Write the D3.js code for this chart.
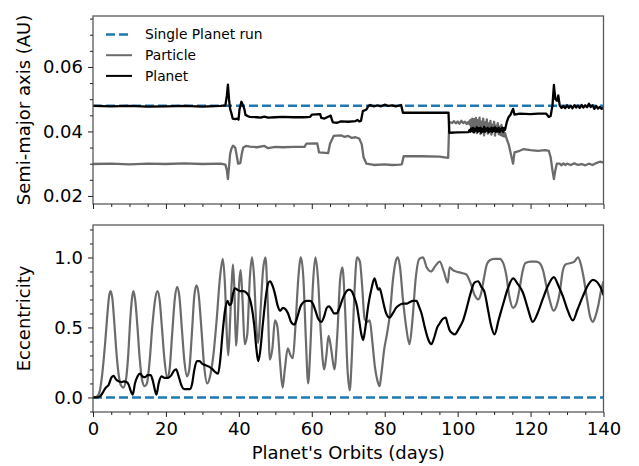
<!DOCTYPE html>
<html>
<head>
<meta charset="utf-8">
<script src="https://cdn.jsdelivr.net/npm/d3@7/dist/d3.min.js"></script>
<style>
  body { margin: 0; background: #fff; }
  text { font-family: "DejaVu Sans", sans-serif; fill: #000; }
</style>
</head>
<body>
<svg id="chart" width="639" height="466"></svg>
<script>
// x ticks shared by both panels
const xMajor = [0, 20, 40, 60, 80, 100, 120, 140];
const semiTicks = [0.02, 0.04, 0.06];
const eccTicks = [0.0, 0.5, 1.0];

// single planet run (constant)
const singleSemi = [[0, 0.048], [140, 0.048]];
const singleEcc = [[0, 0], [140, 0]];

// semi-major axis [days, AU]
const planetSemi = [
  [0,0.0479],[5,0.0478],[10,0.0479],[15,0.0477],[20,0.0478],[25,0.0479],[30,0.0477],[35,0.0479],
  [36.3,0.0481],[36.7,0.0510],[37.0,0.0545],[37.3,0.0500],[37.6,0.0470],[38.0,0.0455],[38.3,0.0440],
  [39.0,0.0438],[39.5,0.0440],[39.9,0.0437],[40.2,0.0470],[40.7,0.0492],[41.0,0.0485],[41.5,0.0470],
  [41.8,0.0452],[42.5,0.0447],[43,0.0445],[45,0.0444],[46,0.0443],[47,0.0446],[48,0.0443],[50,0.0444],
  [52,0.0445],[55,0.0444],[58,0.0444],[59.5,0.0445],[60,0.0452],[62.3,0.0454],[62.6,0.0442],[63.5,0.0440],
  [64.2,0.0444],[65.2,0.0449],[65.5,0.0437],[65.8,0.0428],[67,0.0427],[68,0.0431],[70,0.0430],[72,0.0432],
  [72.5,0.0436],[73,0.0431],[73.5,0.0433],[74,0.0463],[75,0.0468],[75.5,0.0479],[76,0.0482],[77,0.0478],
  [78,0.0481],[79,0.0478],[80,0.0483],[81,0.0479],[82,0.0481],[83,0.0478],[84.5,0.0482],[85,0.0458],
  [90,0.0458],[95,0.0458],[97.5,0.0458],[97.7,0.0396],[100,0.0397],[103,0.0398],
  [103.25,0.0405],[103.5,0.0399],[103.75,0.0409],[104,0.0401],[104.25,0.0411],[104.5,0.0397],[104.75,0.0408],
  [105,0.0403],[105.25,0.0413],[105.5,0.0398],[105.75,0.0410],[106,0.0402],[106.25,0.0412],[106.5,0.0396],
  [106.75,0.0407],[107,0.0400],[107.25,0.0414],[107.5,0.0399],[107.75,0.0409],[108,0.0403],[108.25,0.0411],
  [108.5,0.0397],[108.75,0.0408],[109,0.0401],[109.25,0.0412],[109.5,0.0398],[109.75,0.0410],[110,0.0402],
  [110.25,0.0413],[110.5,0.0399],[110.75,0.0409],[111,0.0400],[111.25,0.0411],[111.5,0.0398],[111.75,0.0408],
  [112,0.0403],[112.25,0.0412],[112.5,0.0399],[112.75,0.0410],[113,0.0405],
  [113.5,0.0430],[114,0.0445],[114.5,0.0452],[115.2,0.0470],[115.6,0.0452],[117,0.0455],
  [120,0.0454],[122,0.0455],[124.3,0.0455],[125,0.0445],[125.5,0.0448],[126,0.0480],[126.4,0.0544],
  [126.8,0.0500],[127.3,0.0495],[127.6,0.0512],[128,0.0480],[128.5,0.0473],[129,0.0479],[129.5,0.0472],
  [130,0.0481],[130.5,0.0473],[131,0.0480],[131.5,0.0472],[132,0.0481],[132.5,0.0474],[133,0.0480],
  [133.5,0.0473],[134,0.0482],[134.5,0.0474],[135,0.0481],[135.5,0.0475],[136,0.0486],[136.5,0.0476],
  [137,0.0481],[137.5,0.0470],[138,0.0479],[138.5,0.0471],[139,0.0476],[139.5,0.0470],[140,0.0474]
];

const particleSemi = [
  [0,0.0299],[5,0.0300],[10,0.0298],[15,0.0300],[20,0.0299],[25,0.0301],[30,0.0299],[35,0.0300],
  [36.3,0.0297],[36.7,0.0280],[37.0,0.0252],[37.3,0.0290],[37.6,0.0330],[38.0,0.0348],[38.4,0.0356],
  [39.0,0.0350],[39.5,0.0320],[39.8,0.0300],[40.4,0.0302],[40.8,0.0330],[41.2,0.0350],[42,0.0355],
  [43,0.0353],[45,0.0351],[47,0.0355],[48,0.0348],[50,0.0352],[52,0.0351],[55,0.0352],[58,0.0352],
  [58.5,0.0362],[61.5,0.0363],[62,0.0335],[64.5,0.0333],[65,0.0362],[66,0.0386],[68,0.0388],[69,0.0383],
  [70,0.0386],[71,0.0380],[72,0.0382],[73,0.0378],[73.7,0.0360],[74.2,0.0320],[75,0.0300],[77,0.0296],
  [80,0.0298],[82,0.0296],[84,0.0297],[84.7,0.0298],[85.2,0.0323],[90,0.0323],[95,0.0322],[97.4,0.0318],
  [97.7,0.0430],[98.5,0.0426],[99,0.0432],[99.5,0.0425],[100,0.0431],[100.5,0.0424],[101,0.0433],
  [101.5,0.0426],[102,0.0430],[102.5,0.0423],[103,0.0430],
  [103.25,0.0422],[103.5,0.0436],[103.75,0.0405],[104,0.0440],[104.25,0.0398],[104.5,0.0438],[104.75,0.0412],
  [105,0.0442],[105.25,0.0395],[105.5,0.0435],[105.75,0.0418],[106,0.0443],[106.25,0.0392],[106.5,0.0430],
  [106.75,0.0410],[107,0.0440],[107.25,0.0388],[107.5,0.0428],[107.75,0.0415],[108,0.0437],[108.25,0.0393],
  [108.5,0.0425],[108.75,0.0402],[109,0.0433],[109.25,0.0390],[109.5,0.0420],[109.75,0.0408],[110,0.0430],
  [110.25,0.0387],[110.5,0.0418],[110.75,0.0400],[111,0.0426],[111.25,0.0392],[111.5,0.0415],[111.75,0.0389],
  [112,0.0420],[112.25,0.0386],[112.5,0.0405],[112.75,0.0384],[113,0.0395],
  [113.5,0.0375],[114,0.0360],[114.5,0.0335],[115.2,0.0300],[115.6,0.0335],[117,0.0340],[118,0.0345],
  [120,0.0342],[122,0.0340],[124,0.0342],[125,0.0340],[125.5,0.0320],[126,0.0280],[126.4,0.0252],
  [126.8,0.0280],[127.2,0.0300],[128,0.0300],[128.5,0.0295],[129,0.0301],[129.5,0.0296],[130,0.0300],
  [131,0.0296],[132,0.0301],[133,0.0296],[134,0.0299],[135,0.0295],[136,0.0300],[137,0.0296],
  [138,0.0302],[139,0.0306],[140,0.0304]
];

// eccentricity [days, e]
const particleEcc = [
  [0,0],[1,0.005],[1.8,0.04],[2.5,0.16],[3.3,0.38],[3.9,0.58],[4.4,0.72],[4.8,0.76],[5.3,0.71],[5.8,0.55],
  [6.4,0.33],[7.0,0.17],[7.6,0.09],[8.3,0.07],[9.0,0.12],[9.6,0.28],[10.2,0.55],[10.7,0.71],[11.1,0.76],
  [11.6,0.69],[12.2,0.5],[12.8,0.28],[13.5,0.12],[14.2,0.08],[14.8,0.1],[15.5,0.25],[16.3,0.52],[17.1,0.71],
  [17.7,0.76],[18.3,0.69],[18.9,0.5],[19.6,0.27],[20.4,0.14],[21.0,0.2],[21.7,0.45],[22.5,0.72],[23.1,0.79],
  [23.7,0.72],[24.4,0.48],[25.1,0.25],[25.8,0.15],[26.4,0.2],[27.1,0.45],[27.8,0.73],[28.4,0.8],[29.0,0.73],
  [29.7,0.5],[30.5,0.22],[31.3,0.1],[32.1,0.15],[33.0,0.3],[33.9,0.55],[34.8,0.85],[35.6,0.99],[36.2,0.8],
  [36.7,0.45],[37.1,0.3],[37.6,0.55],[38.1,0.85],[38.4,0.95],[38.8,0.75],[39.2,0.37],[39.7,0.55],[40.1,0.82],
  [40.5,0.91],[41.0,0.7],[41.6,0.38],[42.3,0.45],[43.0,0.85],[43.6,1.0],[44.2,0.85],[44.8,0.5],[45.3,0.39],
  [45.9,0.6],[46.6,0.9],[47.3,1.0],[47.9,0.7],[48.5,0.27],[49.2,0.35],[49.9,0.55],[50.6,0.5],[51.3,0.25],
  [52.0,0.07],[52.6,0.2],[53.4,0.35],[54.2,0.3],[54.8,0.28],[55.5,0.5],[56.3,0.85],[57.0,1.0],[57.7,0.85],
  [58.4,0.4],[59.0,0.1],[59.6,0.35],[60.3,0.8],[61.0,1.0],[61.7,0.85],[62.5,0.45],[63.4,0.2],[64.0,0.3],
  [64.6,0.44],[65.3,0.35],[66.2,0.2],[67.0,0.45],[67.8,0.85],[68.4,0.93],[69.1,0.65],[69.8,0.2],[70.4,0.05],
  [71.0,0.3],[71.7,0.75],[72.4,1.0],[73.2,0.97],[73.8,0.8],[74.5,0.56],[75.2,0.54],[75.9,0.55],[76.6,0.4],
  [77.3,0.22],[78.0,0.12],[78.6,0.08],[79.0,0.15],[79.9,0.35],[80.6,0.45],[81.4,0.59],[82.3,0.85],[83.0,0.97],
  [83.6,1.0],[84.2,0.93],[85.0,0.7],[85.9,0.5],[86.8,0.38],[87.6,0.55],[88.5,0.85],[89.5,0.99],[90.5,1.0],
  [91.5,0.93],[92.7,0.9],[93.9,0.94],[95.1,0.97],[96.2,0.9],[97.3,0.82],[97.8,0.93],[98.7,0.91],[99.6,0.9],
  [101,0.89],[102.3,0.88],[103.5,0.82],[104.7,0.73],[105.6,0.70],[106.4,0.74],[107.2,0.85],[108,0.95],
  [108.8,0.98],[110,0.99],[111.5,0.99],[112.5,0.96],[113.3,0.88],[114.2,0.72],[115.2,0.64],[116.1,0.67],
  [117,0.78],[117.8,0.9],[118.6,0.96],[120,0.97],[121.5,0.97],[122.5,0.96],[123.5,0.9],[124.3,0.8],
  [125.2,0.7],[126.3,0.62],[127.2,0.66],[128,0.75],[128.8,0.9],[129.6,0.95],[131,0.96],[132,0.97],
  [133,1.0],[133.8,0.95],[134.6,0.85],[135.5,0.7],[136.3,0.58],[137.1,0.54],[137.8,0.58],[138.6,0.66],
  [139.3,0.76],[140,0.83]
];

const planetEcc = [
  [0,0],[1,0.0],[2,0.01],[2.8,0.04],[3.5,0.07],[4.3,0.09],[5.0,0.14],[5.6,0.155],[6.3,0.13],[7.0,0.115],
  [7.8,0.11],[8.5,0.115],[9.2,0.11],[9.8,0.09],[10.3,0.05],[10.9,0.02],[11.5,0.1],[12.2,0.15],[12.9,0.17],
  [13.6,0.15],[14.3,0.145],[15.0,0.16],[15.8,0.16],[16.4,0.12],[17.0,0.05],[17.4,0.02],[18.0,0.1],[18.8,0.15],
  [19.6,0.14],[20.6,0.14],[21.5,0.16],[22.2,0.19],[22.8,0.2],[23.5,0.15],[24.2,0.09],[25.0,0.06],[25.8,0.06],
  [26.6,0.06],[27.2,0.1],[27.8,0.2],[28.5,0.26],[29.2,0.26],[30.0,0.24],[30.9,0.23],[31.8,0.22],[32.8,0.2],
  [33.6,0.18],[34.3,0.17],[34.9,0.27],[35.5,0.45],[36.2,0.62],[36.9,0.69],[37.4,0.66],[37.9,0.67],[38.4,0.74],
  [38.9,0.78],[39.6,0.77],[40.3,0.76],[41.2,0.76],[42.0,0.75],[42.8,0.72],[43.5,0.65],[44.2,0.52],[44.8,0.35],
  [45.3,0.26],[45.8,0.32],[46.6,0.53],[47.4,0.72],[48.1,0.82],[48.6,0.83],[49.2,0.8],[49.9,0.74],[50.6,0.66],
  [51.3,0.62],[52.1,0.64],[52.8,0.63],[53.5,0.6],[54.3,0.54],[55.2,0.52],[56.1,0.58],[56.9,0.65],[57.7,0.68],
  [58.6,0.69],[59.5,0.69],[60.3,0.67],[61.0,0.62],[61.8,0.56],[62.6,0.54],[63.4,0.58],[64.1,0.64],[64.7,0.65],
  [65.4,0.63],[66.1,0.6],[66.8,0.6],[67.6,0.64],[68.4,0.7],[69.3,0.75],[70.2,0.77],[70.9,0.76],[71.6,0.72],
  [72.4,0.65],[73.0,0.55],[73.6,0.45],[74.1,0.41],[74.6,0.48],[75.5,0.66],[76.4,0.78],[77.2,0.85],[77.8,0.8],
  [78.2,0.77],[78.6,0.78],[79.0,0.75],[79.6,0.68],[80.4,0.6],[81.3,0.57],[82.2,0.6],[83.1,0.64],[84.0,0.66],
  [85.0,0.67],[86.0,0.67],[86.8,0.68],[87.7,0.69],[88.7,0.69],[89.4,0.65],[90.1,0.6],[91.0,0.5],[92.0,0.41],
  [92.8,0.38],[93.6,0.43],[94.4,0.5],[95.1,0.53],[95.9,0.56],[96.7,0.57],[97.2,0.53],[97.8,0.48],[98.5,0.46],
  [99.2,0.45],[100.3,0.49],[101.5,0.55],[102.5,0.64],[103.5,0.74],[104.6,0.82],[105.6,0.83],[106.5,0.79],
  [107.4,0.75],[108.3,0.63],[109.2,0.51],[110.1,0.45],[111.2,0.55],[112.4,0.66],[113.8,0.78],[115.2,0.85],
  [116.5,0.81],[117.9,0.75],[119.2,0.64],[120.6,0.54],[121.9,0.6],[123.3,0.7],[124.8,0.8],[126.4,0.86],
  [127.6,0.8],[128.9,0.72],[130.2,0.62],[131.6,0.55],[132.9,0.63],[134.3,0.72],[135.7,0.8],[137.1,0.84],
  [138.0,0.83],[138.9,0.8],[139.5,0.77],[140,0.73]
];

const svg = d3.select("#chart");

const left = 93, right = 603.5;
const topPanel = { top: 16, bottom: 204 };
const botPanel = { top: 225, bottom: 412 };

const x = d3.scaleLinear().domain([0, 140]).range([left, right]);
const ySemi = d3.scaleLinear().domain([0.0175, 0.0758]).range([topPanel.bottom, topPanel.top]);
const yEcc = d3.scaleLinear().domain([-0.104, 1.232]).range([botPanel.bottom, botPanel.top]);

const blue = "#1f77b4";
const gray = "#6b6b6b";

function drawPanel(panel, y, majors, minors, fmt, showXLabels) {
    const g = svg.append("g");

    // clip lines to the axes box
    const clipId = "clip" + panel.top;
    svg.append("clipPath").attr("id", clipId)
        .append("rect")
        .attr("x", left).attr("y", panel.top)
        .attr("width", right - left).attr("height", panel.bottom - panel.top);

    const plot = g.append("g").attr("clip-path", `url(#${clipId})`);

    // frame
    g.append("rect")
        .attr("x", left).attr("y", panel.top)
        .attr("width", right - left).attr("height", panel.bottom - panel.top)
        .attr("fill", "none").attr("stroke", "#5a5a5a").attr("stroke-width", 1.3);

    // y axis
    g.append("g").attr("transform", `translate(${left},0)`)
        .call(d3.axisLeft(y).tickValues(majors).tickSize(5).tickPadding(5).tickFormat(fmt));
    g.append("g").attr("transform", `translate(${left},0)`)
        .call(d3.axisLeft(y).tickValues(minors).tickSize(3).tickFormat(""));

    // x axis
    g.append("g").attr("transform", `translate(0,${panel.bottom})`)
        .call(d3.axisBottom(x).tickValues(xMajor).tickSize(5).tickPadding(5)
            .tickFormat(showXLabels ? d3.format("d") : ""));
    g.append("g").attr("transform", `translate(0,${panel.bottom})`)
        .call(d3.axisBottom(x).tickValues(d3.range(0, 141, 5).filter(v => v % 20 !== 0))
            .tickSize(3).tickFormat(""));

    g.selectAll(".domain").remove();
    g.selectAll(".tick line").attr("stroke", "#222").attr("stroke-width", 1);
    g.selectAll(".tick text")
        .attr("font-size", "18px")
        .attr("font-family", "DejaVu Sans, sans-serif")
        .attr("fill", "#000");

    return plot;
}

const semiMinor = d3.range(0.02, 0.0751, 0.005).filter(v => !semiTicks.some(t => Math.abs(t - v) < 1e-6));
const eccMinor = d3.range(-0.1, 1.201, 0.1).filter(v => !eccTicks.some(t => Math.abs(t - v) < 1e-6));

const topPlot = drawPanel(topPanel, ySemi, semiTicks, semiMinor, d3.format(".2f"), false);
const botPlot = drawPanel(botPanel, yEcc, eccTicks, eccMinor, d3.format(".1f"), true);

const lineSemi = d3.line().x(d => x(d[0])).y(d => ySemi(d[1]));
const lineEccSmooth = d3.line().x(d => x(d[0])).y(d => yEcc(d[1])).curve(d3.curveMonotoneX);

function addLine(plot, data, gen, color, width, dash) {
    plot.append("path")
        .datum(data)
        .attr("d", gen)
        .attr("fill", "none")
        .attr("stroke", color)
        .attr("stroke-width", width)
        .attr("stroke-linejoin", "round")
        .attr("stroke-dasharray", dash || null);
}

// top panel
addLine(topPlot, singleSemi, lineSemi, blue, 2.5, "9,4");
addLine(topPlot, particleSemi, lineSemi, gray, 2.3);
addLine(topPlot, planetSemi, lineSemi, "#000", 2.3);

// bottom panel
addLine(botPlot, singleEcc, lineEccSmooth, blue, 2.5, "9,4");
addLine(botPlot, particleEcc, lineEccSmooth, gray, 2.2);
addLine(botPlot, planetEcc, lineEccSmooth, "#000", 2.2);

// axis labels
svg.append("text")
    .attr("transform", `translate(30,${(topPanel.top + topPanel.bottom) / 2}) rotate(-90)`)
    .attr("text-anchor", "middle")
    .attr("font-size", "18px")
    .text("Semi-major axis (AU)");

svg.append("text")
    .attr("transform", `translate(30,${(botPanel.top + botPanel.bottom) / 2}) rotate(-90)`)
    .attr("text-anchor", "middle")
    .attr("font-size", "18px")
    .text("Eccentricity");

svg.append("text")
    .attr("x", (left + right) / 2)
    .attr("y", 459)
    .attr("text-anchor", "middle")
    .attr("font-size", "18px")
    .text("Planet's Orbits (days)");

// legend
const legendItems = [
    { label: "Single Planet run", color: blue, dash: "9,4", width: 2.5 },
    { label: "Particle", color: gray, dash: null, width: 2 },
    { label: "Planet", color: "#000", dash: null, width: 2 }
];

const legend = svg.append("g");
legendItems.forEach((item, i) => {
    const ly = 34.5 + i * 20.7;
    legend.append("line")
        .attr("x1", 106).attr("x2", 132)
        .attr("y1", ly).attr("y2", ly)
        .attr("stroke", item.color)
        .attr("stroke-width", item.width)
        .attr("stroke-dasharray", item.dash);
    legend.append("text")
        .attr("x", 145)
        .attr("y", ly)
        .attr("dy", "0.35em")
        .attr("font-size", "13.8px")
        .text(item.label);
});
</script>
</body>
</html>
